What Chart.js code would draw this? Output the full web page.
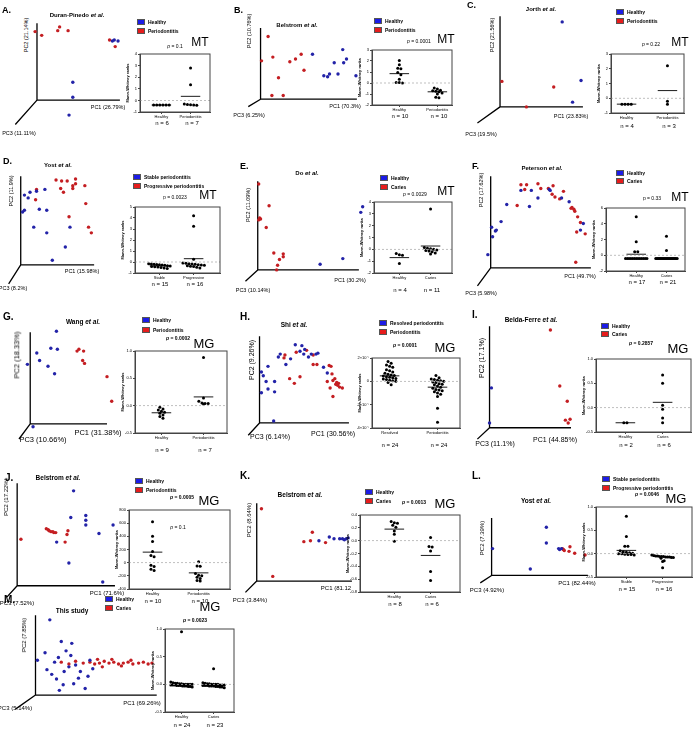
<!DOCTYPE html>
<html>
<head>
<meta charset="utf-8" />
<title>PCA and Mann-Whitney ranks</title>
<script src="https://cdn.jsdelivr.net/npm/chart.js@4.4.1/dist/chart.umd.min.js"></script>
<style>
    body, html { margin: 0; padding: 0; background: #fff; width: 696px; height: 749px; overflow: hidden; }
    #fig { position: relative; width: 696px; height: 749px; font-family: "Liberation Sans", Arial, sans-serif; }
    .t { position: absolute; white-space: nowrap; line-height: 1; color: #000; will-change: transform; }
    .t.r { will-change: auto; }
    .sq { position: absolute; width: 8px; height: 6px; border: 0.5px solid #555; box-sizing: border-box; }
    canvas { position: absolute; }
</style>
</head>
<body>
<div id="fig"></div>
<script>
// ---- data: PCA scores (projected, PC1 / PC2 units) and Mann-Whitney ranks ----
// A. Duran-Pinedo (MT)
const pcaA_h = [[80,63],[82,64],[86,63],[38,19],[38,3],[34,-16]];
const pcaA_d = [[-2,73],[5,69],[22,74],[24,78],[33,74],[77,64],[83,57]];
const rankA_h = [-0.4,-0.4,-0.4,-0.4,-0.4,-0.4];
const rankA_d = [2.8,1.35,-0.3,-0.35,-0.4,-0.42,-0.38];
const medA = [-0.4, 0.35];
// B. Belstrom (MT)
const pcaB_h = [[55,48],[67,25],[71,24],[73,27],[78,39],[82,27],[87,53],[88,39],[91,43],[101,25]];
const pcaB_d = [[8,67],[1,41],[13,45],[19,23],[12,4],[24,4],[31,40],[37,43],[43,48],[46,31]];
const rankB_h = [2.05,1.65,1.35,1.3,0.95,0.75,0.35,0.05,0.0,0.05];
const rankB_d = [-0.45,-0.55,-0.65,-0.7,-0.75,-0.8,-0.9,-1.0,-1.3,-1.35];
const medB = [0.85, -0.8];
// C. Jorth (MT)
const pcaC_h = [[66,90],[86,28],[77,5]];
const pcaC_d = [[2,27],[57,21],[28,0]];
const rankC_h = [-0.4,-0.4,-0.4,-0.4];
const rankC_d = [2.2,-0.2,-0.4];
const medC = [-0.4, 0.52];
// D. Yost (MT)
const pcaD_h = [[4,74],[10,77],[8,71],[17,78],[26,80],[2,56],[4,58],[20,59],[28,58],[14,40],[28,34],[53,40],[48,19],[34,5]];
const pcaD_d = [[38,90],[44,89],[50,89],[59,91],[56,84],[59,86],[56,81],[43,81],[46,77],[69,84],[17,80],[16,69],[70,65],[52,51],[73,40],[76,34]];
const rankD_h = [-0.15,-0.18,-0.2,-0.22,-0.25,-0.28,-0.3,-0.33,-0.36,-0.4,-0.43,-0.46,-0.5,-0.55,-0.6];
const rankD_d = [4.2,3.25,0.25,-0.1,-0.12,-0.15,-0.18,-0.2,-0.24,-0.28,-0.3,-0.34,-0.38,-0.42,-0.48,-0.55];
const medD = [-0.35, 0.3];
// E. Do (MT)
const pcaE_h = [[111,67],[109,61],[90,12],[66,6]];
const pcaE_d = [[1,91],[12,68],[2,55],[1,53],[3,54],[9,45],[17,18],[27,17],[27,14],[23,11],[21,5],[20,0]];
const rankE_h = [-0.35,-0.45,-0.5,-1.2];
const rankE_d = [3.4,0.15,0.1,0.05,0.0,-0.05,-0.1,-0.15,-0.2,-0.3,-0.4];
const medE = [-0.7, 0.28];
// F. Peterson (MT)
const pcaF_h = [[-3,14],[2,33],[1,43],[5,39],[6,40],[11,49],[17,67],[32,82],[41,65],[43,82],[50,74],[63,82],[75,74],[83,70],[95,40],[98,47],[62,83]];
const pcaF_d = [[28,66],[32,88],[36,83],[38,88],[50,89],[53,84],[61,84],[65,78],[66,87],[68,75],[73,73],[77,81],[85,63],[88,62],[89,60],[92,54],[95,48],[91,38],[100,36],[90,6],[86,64]];
const rankF_h = [4.9,1.7,0.45,0.45,-0.4,-0.4,-0.4,-0.4,-0.4,-0.4,-0.4,-0.4,-0.4,-0.4,-0.4,-0.4,-0.4];
const rankF_d = [2.4,0.6,-0.4,-0.4,-0.4,-0.4,-0.4,-0.4,-0.4,-0.4,-0.4,-0.4,-0.4,-0.4,-0.4,-0.4,-0.4,-0.4,-0.4,-0.4,-0.4];
const medF = [0.13, -0.35];
// G. Wang (MG)
const pcaG_h = [[28,98],[22,80],[29,79],[7,75],[10,67],[-3,63],[19,61],[26,53],[3,-3]];
const pcaG_d = [[50,77],[52,79],[57,77],[56,67],[58,64],[82,50],[87,24]];
const rankG_h = [-0.03,-0.06,-0.08,-0.1,-0.12,-0.14,-0.17,-0.2,-0.23];
const rankG_d = [0.88,0.14,0.08,0.05,0.04,0.04,0.03];
const medG = [-0.13, 0.16];
// H. Shi (MG)
const pcaH_h = [[2,54],[4,50],[2,32],[7,44],[9,60],[9,36],[16,44],[16,33],[22,73],[28,62],[38,83],[45,82],[43,76],[47,73],[48,78],[55,73],[60,73],[62,74],[68,59],[72,53],[15,2],[20,70],[33,68],[52,70]];
const pcaH_d = [[27,72],[26,69],[39,75],[50,77],[57,72],[57,62],[61,62],[32,47],[37,42],[43,49],[74,61],[76,60],[72,44],[77,52],[78,45],[75,37],[81,41],[82,43],[83,40],[85,38],[78,28],[88,37],[80,47],[84,42]];
const rankH_h = [1.7,1.55,1.4,1.3,1.2,1.0,0.9,0.8,0.7,0.6,0.55,0.5,0.45,0.4,0.35,0.3,0.25,0.2,0.15,0.1,0.05,0.0,-0.1,-0.3];
const rankH_d = [0.5,0.3,0.2,0.15,0.1,0.05,0.0,-0.05,-0.1,-0.2,-0.25,-0.3,-0.4,-0.5,-0.6,-0.7,-0.75,-0.8,-0.9,-1.0,-1.1,-1.3,-2.3,-3.5];
const medH = [0.47, -0.5];
// I. Belda-Ferre (MG)
const pcaI_h = [[2,42],[0,5]];
const pcaI_d = [[65,103],[75,44],[83,28],[81,8],[86,9],[84,5]];
const rankI_h = [-0.31,-0.31];
const rankI_d = [0.67,0.5,0.05,-0.03,-0.21,-0.31];
const medI = [-0.31, 0.11];
// J. Belstrom (MG)
const pcaJ_h = [[60,100],[57,72],[73,74],[73,69],[73,64],[102,64],[87,55],[42,46],[55,24],[91,4]];
const pcaJ_d = [[31,60],[33,59],[34,58],[36,57],[38,57],[39,56],[41,56],[54,58],[53,54],[51,46],[4,49]];
const rankJ_h = [620,400,320,170,110,90,-40,-60,-100,-120];
const rankJ_d = [15,-50,-55,-165,-190,-200,-220,-240,-270,-280];
const medJ = [160, -155];
// K. Belstrom (MG)
const pcaK_h = [[66,43],[77,47],[82,45],[88,45],[91,45],[95,45],[97,46],[93,44]];
const pcaK_d = [[5,77],[17,5],[50,42],[57,43],[59,52],[73,41]];
const rankK_h = [0.30,0.28,0.27,0.24,0.21,0.15,0.10,-0.01];
const rankK_d = [0.05,-0.09,-0.10,-0.16,-0.48,-0.62];
const medK = [0.18, -0.23];
// L. Yost (MG)
const pcaL_h = [[1,29],[58,52],[58,35],[41,7],[71,29],[72,28],[74,29]];
const pcaL_d = [[76,28],[77,27],[83,31],[82,26],[88,24],[99,22],[75,29]];
const rankL_h = [0.8,0.37,0.16,0.16,0.06,0.04,0.03,0.02,0.01,0.0,0.0,-0.01,-0.02,-0.02,-0.03];
const rankL_d = [-0.03,-0.04,-0.05,-0.05,-0.06,-0.06,-0.06,-0.07,-0.07,-0.07,-0.08,-0.08,-0.1,-0.15,-0.17,-0.3];
const medL = [0.07, -0.06];
// M. This study (MG)
const pcaM_h = [[15,80],[2,37],[27,57],[32,47],[37,42],[12,27],[17,22],[22,17],[29,11],[42,32],[47,25],[57,37],[52,7],[25,5],[20,35],[35,30],[45,18],[30,25],[10,45],[60,28],[40,12],[24,40],[55,20],[38,55]];
const pcaM_d = [[27,35],[35,33],[42,36],[50,34],[57,35],[62,33],[67,34],[72,36],[77,34],[82,35],[87,33],[92,34],[97,35],[102,33],[108,34],[113,35],[118,33],[122,34],[70,30],[80,38],[90,31],[100,37],[65,38]];
const rankM_h = [0.95,0.04,0.03,0.02,0.02,0.01,0.01,0,0,0,0,0,-0.01,-0.01,-0.01,-0.02,-0.02,-0.02,-0.03,-0.03,-0.03,-0.04,-0.04,-0.05];
const rankM_d = [0.28,0.03,0.02,0.01,0.01,0,0,0,0,-0.01,-0.01,-0.01,-0.02,-0.02,-0.02,-0.03,-0.03,-0.03,-0.04,-0.04,-0.05,-0.05,-0.06];
const medM = [-0.01, -0.02];

const HP = ['Healthy', 'Periodontitis'];
const HC = ['Healthy', 'Caries'];
const SP = ['Stable periodontitis', 'Progressive periodontitis'];

const panels = [
  { key: 'A', title: 'Duran-Pinedo <i>et al.</i>', leg: HP, cats: HP, m: 'MT', p: '<i>p</i> = 0.1', pcs: ['PC1 (26.79%)', 'PC2 (21.14%)', 'PC3 (11.11%)'],
    d: [pcaA_h, pcaA_d, rankA_h, rankA_d, medA], n: [6, 7],
    L: { col: 0, letter: [2,10], title: [77,15], leg: [137,19,9], meth: [200,42], pv: [175,46], box: [140,52,212,112], yr: [-1,4,1], cx: [162,192], nY: 123, o: [35,102], pc1: 88, pc2: 82, pc3: [-23,26], lab1: [108,108], lab2: [27,35], lab3: [19,134], fs: 5.5 } },
  { key: 'B', title: 'Belstrom <i>et al.</i>', leg: HP, cats: HP, m: 'MT', p: '<i>p</i> = 0.0001', pcs: ['PC1 (70.3%)', 'PC2 (10.76%)', 'PC3 (6.25%)'],
    d: [pcaB_h, pcaB_d, rankB_h, rankB_d, medB], n: [10, 10],
    L: { col: 232, letter: [234,10], title: [297,25], leg: [374,18,9], meth: [446,39], pv: [419,41], box: [372,48,454,105], yr: [-2,3,1], cx: [400,439], nY: 116, o: [258,101], pc1: 102, pc2: 76, pc3: [-13,8], lab1: [345,107], lab2: [250,31], lab3: [249,116], fs: 5.5 } },
  { key: 'C', title: 'Jorth <i>et al.</i>', leg: HP, cats: HP, m: 'MT', p: '<i>p</i> = 0.22', pcs: ['PC1 (23.83%)', 'PC2 (21.56%)', 'PC3 (19.5%)'],
    d: [pcaC_h, pcaC_d, rankC_h, rankC_d, medC], n: [4, 3],
    L: { col: 464, letter: [467,5], title: [541,9], leg: [616,9,9], meth: [680,42], pv: [651,44], box: [611,52,686,113], yr: [-1,3,1], cx: [627,669], nY: 126, o: [498,109], pc1: 88, pc2: 96, pc3: [-24,17], lab1: [571,117], lab2: [493,35], lab3: [481,135], fs: 5.5 } },
  { key: 'D', title: 'Yost <i>et al.</i>', leg: SP, cats: ['Stable', 'Progressive'], m: 'MT', p: 'p = 0.0023', pcs: ['PC1 (15.98%)', 'PC2 (11.9%)', 'PC3 (8.2%)'],
    d: [pcaD_h, pcaD_d, rankD_h, rankD_d, medD], n: [15, 16],
    L: { col: 0, letter: [3,161], title: [58,165], leg: [133,174,9], meth: [208,195], pv: [175,197], box: [135,205,222,273], yr: [-1,5,1], cx: [160,195], nY: 284, o: [18,267], pc1: 79, pc2: 94, pc3: [-13,20], lab1: [82,272], lab2: [12,191], lab3: [13,289], fs: 5.5 } },
  { key: 'E', title: 'Do <i>et al.</i>', leg: HC, cats: HC, m: 'MT', p: '<i>p</i> = 0.0029', pcs: ['PC1 (30.2%)', 'PC2 (11.09%)', 'PC3 (10.14%)'],
    d: [pcaE_h, pcaE_d, rankE_h, rankE_d, medE], n: [4, 11],
    L: { col: 232, letter: [240,166], title: [307,173], leg: [380,175,9], meth: [446,191], pv: [415,194], box: [374,200,454,273], yr: [-2,4,1], cx: [400,432], nY: 290, o: [255,272], pc1: 107, pc2: 94, pc3: [-13,12], lab1: [350,281], lab2: [249,205], lab3: [253,291], fs: 5.5 } },
  { key: 'F', title: 'Peterson <i>et al.</i>', leg: HC, cats: HC, m: 'MT', p: 'p = 0.33', pcs: ['PC1 (49.7%)', 'PC2 (17.62%)', 'PC3 (5.98%)'],
    d: [pcaF_h, pcaF_d, rankF_h, rankF_d, medF], n: [17, 21],
    L: { col: 464, letter: [472,166], title: [542,168], leg: [616,170,8], meth: [680,197], pv: [652,198], box: [606,206,687,271], yr: [-2,6,2], cx: [637,668], nY: 282, o: [488,270], pc1: 106, pc2: 97, pc3: [-14,19], lab1: [580,277], lab2: [482,190], lab3: [481,294], fs: 5.5 } },
  { key: 'G', title: 'Wang <i>et al.</i>', leg: HP, cats: HP, m: 'MG', p: '<i>p</i> = 0.0002', pcs: ['PC1 (31.38%)', 'PC2 (18.33%)', 'PC3 (10.66%)'],
    d: [pcaG_h, pcaG_d, rankG_h, rankG_d, medG], n: [9, 7],
    L: { col: 0, letter: [3,317], title: [83,322], leg: [142,317,10], meth: [204,343], pv: [178,338], box: [135,349,229,433], yr: [-0.5,1,0.5], dec: 1, cx: [162,205], nY: 450, o: [28,426], pc1: 82, pc2: 97, pc3: [-12,16], lab1: [98,433], lab2: [17,355], lab3: [43,440], fs: 7.5 } },
  { key: 'H', title: 'Shi <i>et al.</i>', leg: ['Resolved periodontitis', 'Periodontitis'], cats: ['Resolved', 'Periodontitis'], m: 'MG', p: '<i>p</i> = 0.0001', pcs: ['PC1 (30.56%)', 'PC2 (9.26%)', 'PC3 (6.14%)'],
    d: [pcaH_h, pcaH_d, rankH_h, rankH_d, medH], n: [24, 24], exp: true,
    L: { col: 232, letter: [240,317], title: [294,325], leg: [379,320,9], meth: [445,347], pv: [405,345], box: [372,356,462,428], yr: [-4,2,2], cx: [390,439], nY: 445, o: [257,425], pc1: 95, pc2: 92, pc3: [-12,13], lab1: [333,433], lab2: [251,360], lab3: [270,436], fs: 7 } },
  { key: 'I', title: 'Belda-Ferre <i>et al.</i>', leg: HC, cats: HC, m: 'MG', p: '<i>p</i> = 0.2857', pcs: ['PC1 (44.85%)', 'PC2 (17.1%)', 'PC3 (11.1%)'],
    d: [pcaI_h, pcaI_d, rankI_h, rankI_d, medI], n: [2, 6],
    L: { col: 464, letter: [472,315], title: [531,320], leg: [601,323,8], meth: [678,348], pv: [641,343], box: [596,357,693,432], yr: [-0.5,1,0.5], dec: 1, cx: [626,664], nY: 445, o: [487,430], pc1: 87, pc2: 107, pc3: [-13,12], lab1: [555,439], lab2: [481,358], lab3: [495,443], fs: 7 } },
  { key: 'J', title: 'Belstrom <i>et al.</i>', leg: HP, cats: HP, m: 'MG', p: '<i>p</i> = 0.0005', pcs: ['PC1 (71.6%)', 'PC2 (17.22%)', 'PC3 (7.52%)'],
    d: [pcaJ_h, pcaJ_d, rankJ_h, rankJ_d, medJ], n: [10, 10], inner: ['<i>p</i> = 0.1', 178, 527],
    L: { col: 0, letter: [5,478], title: [58,478], leg: [135,478,9], meth: [209,500], pv: [182,497], box: [129,508,232,589], yr: [-400,800,200], cx: [153,200], nY: 601, o: [14,588], pc1: 104, pc2: 108, pc3: [-11,12], lab1: [107,593], lab2: [6,497], lab3: [17,603], fs: 6 } },
  { key: 'K', title: 'Belstrom <i>et al.</i>', leg: HC, cats: HC, m: 'MG', p: '<i>p</i> = 0.0013', pcs: ['PC1 (81.12', 'PC2 (8.64%)', 'PC3 (3.84%)'],
    d: [pcaK_h, pcaK_d, rankK_h, rankK_d, medK], n: [8, 6],
    L: { col: 232, letter: [240,476], title: [300,495], leg: [365,489,9], meth: [445,503], pv: [414,502], box: [360,513,462,592], yr: [-0.8,0.4,0.2], dec: 1, cx: [395,432], nY: 604, o: [254,583], pc1: 101, pc2: 83, pc3: [-12,12], lab1: [336,588], lab2: [249,520], lab3: [250,600], fs: 6 } },
  { key: 'L', title: 'Yost <i>et al.</i>', leg: SP, cats: ['Stable', 'Progressive'], m: 'MG', p: '<i>p</i> = 0.0046', pcs: ['PC1 (82.44%)', 'PC2 (7.39%)', 'PC3 (4.92%)'],
    d: [pcaL_h, pcaL_d, rankL_h, rankL_d, medL], n: [15, 16],
    L: { col: 464, letter: [472,476], title: [536,501], leg: [602,476,8.5], meth: [676,498], pv: [647,494], box: [596,505,694,577], yr: [-0.5,1,0.5], dec: 1, cx: [627,664], nY: 589, o: [489,577], pc1: 102, pc2: 62, pc3: [-12,8], lab1: [577,583], lab2: [482,538], lab3: [487,590], fs: 6 } },
  { key: 'M', title: 'This study', leg: HC, cats: HC, m: 'MG', p: '<i>p</i> = 0.0023', pcs: ['PC1 (69.26%)', 'PC2 (7.85%)', 'PC3 (5.14%)'],
    d: [pcaM_h, pcaM_d, rankM_h, rankM_d, medM], n: [24, 23],
    L: { col: 0, letter: [4,600], title: [72,611], leg: [105,596,9], meth: [210,606], pv: [195,620], box: [165,627,236,712], yr: [-0.5,1,0.5], dec: 1, cx: [182,215], nY: 725, o: [33,697], pc1: 127, pc2: 85, pc3: [-21,15], lab1: [142,703], lab2: [24,635], lab3: [15,708], fs: 6 } }
];

const FONT = '"Liberation Sans", Arial, sans-serif';
const BLUE = '#2323a8';
const RED = '#c41e22';
const fig = document.getElementById('fig');

function txt(html, x, y, o = {}) {
    const d = document.createElement('div');
    d.className = o.rot ? 't r' : 't';
    d.innerHTML = html;
    d.style.left = x + 'px';
    d.style.top = y + 'px';
    d.style.fontSize = (o.size || 6) + 'px';
    if (o.bold) d.style.fontWeight = 'bold';
    const ax = o.align === 'l' ? '0' : '-50%';
    d.style.transform = `translate(${ax},-50%)` + (o.rot ? ' rotate(-90deg)' : '');
    fig.appendChild(d);
}

function addCanvas(x, y, w, h) {
    const c = document.createElement('canvas');
    c.width = w; c.height = h;
    c.style.left = x + 'px'; c.style.top = y + 'px';
    c.style.width = w + 'px'; c.style.height = h + 'px';
    fig.appendChild(c);
    return c;
}

// spread points of equal rank sideways, like a dot plot
function spread(vals, c, pxX, pxY) {
    const v = vals.slice().sort((a, b) => b - a);
    const out = [];
    let i = 0;
    while (i < v.length) {
        let j = i;
        while (j + 1 < v.length && (v[i] - v[j + 1]) * pxY < 2.5) j++;
        const n = j - i + 1;
        const step = n > 1 ? Math.min(3.2, 22 / (n - 1)) : 0;
        for (let k = 0; k < n; k++) {
            out.push({ x: c + ((k - (n - 1) / 2) * step) / pxX, y: v[i + k] });
        }
        i = j + 1;
    }
    return out;
}

const axes3d = L => ({
    id: 'axes3d',
    beforeDatasetsDraw(chart) {
        const { ctx, scales: { x, y } } = chart;
        ctx.save();
        ctx.strokeStyle = '#000';
        ctx.lineWidth = 1.3;
        ctx.beginPath();
        ctx.moveTo(x.getPixelForValue(L.pc1), y.getPixelForValue(0));
        ctx.lineTo(x.getPixelForValue(0), y.getPixelForValue(0));
        ctx.lineTo(x.getPixelForValue(0), y.getPixelForValue(L.pc2));
        ctx.moveTo(x.getPixelForValue(0), y.getPixelForValue(0));
        ctx.lineTo(x.getPixelForValue(L.pc3[0]), y.getPixelForValue(-L.pc3[1]));
        ctx.stroke();
        ctx.restore();
    }
});

const boxBorder = {
    id: 'boxBorder',
    afterDatasetsDraw(chart) {
        const { ctx, chartArea: a } = chart;
        ctx.save();
        ctx.strokeStyle = '#444';
        ctx.lineWidth = 1;
        ctx.strokeRect(a.left, a.top, a.right - a.left, a.bottom - a.top);
        ctx.restore();
    }
};

function pcaChart(L, h, d) {
    const [ox, oy] = L.o;
    const cl = L.col, ct = oy - L.pc2 - 14;
    const cw = ox - cl + L.pc1 + 16, ch = L.pc2 + 14 + 34;
    const cv = addCanvas(cl, ct, cw, ch);
    const pt = a => a.map(([x, y]) => ({ x, y }));
    new Chart(cv, {
        type: 'scatter',
        data: { datasets: [
            { data: pt(h), backgroundColor: BLUE, pointRadius: 1.7, borderWidth: 0 },
            { data: pt(d), backgroundColor: RED, pointRadius: 1.7, borderWidth: 0 }
        ] },
        options: {
            responsive: false, animation: false, events: [],
            layout: { padding: 0 },
            plugins: { legend: { display: false }, tooltip: { enabled: false } },
            scales: {
                x: { type: 'linear', display: false, min: cl - ox, max: cl + cw - ox },
                y: { type: 'linear', display: false, min: oy - (ct + ch), max: oy - ct }
            }
        },
        plugins: [axes3d(L)]
    });
}

function rankChart(P) {
    const L = P.L;
    const [l, t, r, b] = L.box;
    const yw = 15, xh = 7, pad = 2;
    const cv = addCanvas(l - yw, t - pad, r - l + yw + pad, b - t + pad + xh);
    const [y0, y1, ys] = L.yr;
    const pxX = L.cx[1] - L.cx[0], pxY = (b - t) / (y1 - y0);
    const xmin = -(L.cx[0] - l) / pxX, xmax = 1 + (r - L.cx[1]) / pxX;
    const hw = 10 / pxX;
    const med = P.d[4];
    const seg = (c, m) => [{ x: c - hw, y: m }, { x: c + hw, y: m }];
    const dec = L.dec || 0;
    const tickFmt = P.exp
        ? v => (v === 0 ? '0' : v + '×10⁻⁷')
        : v => (Math.abs(v) < 1e-9 ? (dec ? (0).toFixed(dec) : '0') : v.toFixed(dec));
    new Chart(cv, {
        type: 'scatter',
        data: { datasets: [
            { data: [{ x: xmin, y: 0 }, { x: xmax, y: 0 }], showLine: true, borderColor: '#b0b0b0', borderWidth: 0.8, borderDash: [2, 2], pointRadius: 0 },
            { data: seg(0, med[0]), showLine: true, borderColor: '#000', borderWidth: 0.9, pointRadius: 0 },
            { data: seg(1, med[1]), showLine: true, borderColor: '#000', borderWidth: 0.9, pointRadius: 0 },
            { data: spread(P.d[2], 0, pxX, pxY), backgroundColor: '#000', pointRadius: 1.5, borderWidth: 0 },
            { data: spread(P.d[3], 1, pxX, pxY), backgroundColor: '#000', pointRadius: 1.5, borderWidth: 0 }
        ] },
        options: {
            responsive: false, animation: false, events: [],
            layout: { padding: { top: pad, right: pad, left: 0, bottom: 0 } },
            plugins: { legend: { display: false }, tooltip: { enabled: false } },
            scales: {
                x: {
                    type: 'linear', min: xmin, max: xmax,
                    afterFit: s => { s.height = xh; },
                    grid: { drawOnChartArea: false, tickLength: 2, color: '#444' },
                    border: { color: '#444' },
                    ticks: { stepSize: 1, includeBounds: false, autoSkip: false, maxRotation: 0, padding: 0, color: '#000',
                        font: { size: 4, family: FONT },
                        callback: v => (v === 0 ? P.cats[0] : v === 1 ? P.cats[1] : '') }
                },
                y: {
                    type: 'linear', min: y0, max: y1,
                    afterFit: s => { s.width = yw; },
                    grid: { drawOnChartArea: false, tickLength: 2, color: '#444' },
                    border: { color: '#444' },
                    ticks: { stepSize: ys, autoSkip: false, padding: 1, color: '#000', font: { size: 4, family: FONT }, callback: tickFmt },
                    title: { display: true, text: 'Mann-Whitney ranks', color: '#000', padding: 0, font: { size: 4, weight: 'bold', family: FONT } }
                }
            }
        },
        plugins: [boxBorder]
    });
}

panels.forEach(P => {
    const L = P.L;
    const mg = P.m === 'MG';
    txt(P.key + '.', L.letter[0], L.letter[1], { size: mg ? 10 : 9, bold: true, align: 'l' });
    txt(P.title, L.title[0], L.title[1], { size: mg ? 6.5 : 6, bold: true });
    P.leg.forEach((lab, i) => {
        const sq = document.createElement('div');
        sq.className = 'sq';
        sq.style.left = L.leg[0] + 'px';
        sq.style.top = (L.leg[1] + i * L.leg[2]) + 'px';
        sq.style.background = i === 0 ? '#1c1ce6' : '#e61c1c';
        fig.appendChild(sq);
        txt(lab, L.leg[0] + 11, L.leg[1] + i * L.leg[2] + 3, { size: 5, bold: true, align: 'l' });
    });
    txt(P.m, L.meth[0], L.meth[1], { size: mg ? 13 : 12 });
    txt(P.p, L.pv[0], L.pv[1], { size: 5, bold: mg });
    if (P.inner) txt(P.inner[0], P.inner[1], P.inner[2], { size: 5 });
    txt(P.pcs[0], L.lab1[0], L.lab1[1], { size: L.fs });
    txt(P.pcs[1], L.lab2[0], L.lab2[1], { size: L.fs, rot: true });
    txt(P.pcs[2], L.lab3[0], L.lab3[1], { size: L.fs });
    txt('n = ' + P.n[0], L.cx[0], L.nY, { size: 6 });
    txt('n = ' + P.n[1], L.cx[1], L.nY, { size: 6 });
    pcaChart(L, P.d[0], P.d[1]);
    rankChart(P);
});
</script>
</body>
</html>
